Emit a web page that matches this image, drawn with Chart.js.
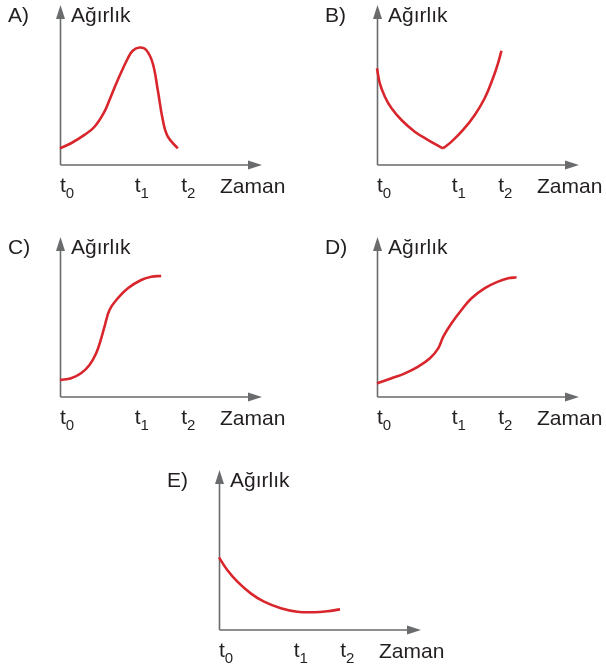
<!DOCTYPE html>
<html>
<head>
<meta charset="utf-8">
<script src="https://cdn.jsdelivr.net/npm/chart.js@4.4.1/dist/chart.umd.min.js"></script>
<style>
  html, body { margin: 0; padding: 0; background: #fff; overflow: hidden; }
  .panel { position: absolute; width: 290px; height: 205px; }
</style>
</head>
<body>
<div class="panel" style="left:0;top:0"><canvas id="chartA" width="290" height="205"></canvas></div>
<div class="panel" style="left:317px;top:0"><canvas id="chartB" width="290" height="205"></canvas></div>
<div class="panel" style="left:0;top:232px"><canvas id="chartC" width="290" height="205"></canvas></div>
<div class="panel" style="left:317px;top:232px"><canvas id="chartD" width="290" height="205"></canvas></div>
<div class="panel" style="left:159px;top:465px"><canvas id="chartE" width="290" height="205"></canvas></div>
<script>
// time axis marks t0, t1, t2 (same for every panel)
const tickValues = [0, 37, 60];
const tickSubs = ['0', '1', '2'];

// A) rises, peaks near t1, drops back by t2
const timeA = [0, 5.5, 12.1, 17.1, 22.0, 24.5, 28.6, 33.6, 36.0, 39.4, 42.7, 45.9, 48.4, 50.9, 53.4, 58.3];
const weightA = [10.4, 13.6, 18.8, 23.9, 33.3, 40.6, 53.1, 66.7, 71.4, 73.4, 71.9, 63.6, 46.9, 28.1, 17.7, 10.4];

// B) falls until just before t1, then climbs again
const timeB1 = [0, 1.4, 3.9, 7.2, 12.1, 18.7, 25.3, 32.7];
const weightB1 = [60.4, 51.0, 42.7, 35.4, 28.1, 20.8, 15.6, 10.4];
const timeB2 = [32.7, 36.9, 42.6, 48.4, 53.3, 57.4, 59.9, 61.6];
const weightB2 = [10.4, 14.6, 21.9, 31.3, 41.7, 54.2, 63.5, 71.4];

// C) s-curve levelling off at t1
const timeC = [0, 5.5, 10.4, 14.6, 17.9, 20.4, 22.0, 24.5, 28.6, 33.6, 40.2, 45.2, 50.1];
const weightC = [10.6, 11.7, 14.8, 20.0, 27.3, 36.7, 43.8, 54.4, 61.7, 68.0, 73.1, 75.2, 75.6];

// D) s-curve levelling off at t2
const timeD = [0, 7.2, 13.8, 20.4, 26.2, 30.3, 32.8, 36.9, 41.8, 46.8, 53.4, 59.9, 64.9, 69.1];
const weightD = [8.5, 11.7, 14.8, 19.0, 24.2, 30.4, 37.7, 46.1, 54.4, 61.7, 68.0, 72.1, 74.2, 74.8];

// E) steady decline, flat near the end
const timeE = [0, 4.1, 9.1, 15.7, 22.3, 30.6, 38.8, 47.0, 53.6, 59.9];
const weightE = [45.4, 37.5, 30.2, 22.9, 17.7, 13.6, 11.4, 11.1, 11.7, 12.9];

const RED = '#d9252c';
const AXIS = '#6a6b6d';
const TEXT = '#231f20';
const FONT = '"Liberation Sans", Arial, sans-serif';

function toPoints(xs, ys) {
    return xs.map((x, i) => ({ x: x, y: ys[i] }));
}

function curve(xs, ys) {
    return {
        data: toPoints(xs, ys),
        borderColor: RED,
        borderWidth: 2.6,
        pointRadius: 0,
        fill: false,
        tension: 0.4,
        clip: false,
    };
}

// axes with arrow heads plus the panel texts
const axesPlugin = {
    id: 'panelAxes',
    beforeDatasetsDraw(chart) {
        const { ctx, chartArea: a } = chart;
        const x0 = a.left + 0.5, y0 = a.bottom;
        ctx.save();
        ctx.strokeStyle = AXIS;
        ctx.fillStyle = AXIS;
        ctx.lineWidth = 1.6;
        ctx.beginPath();
        ctx.moveTo(x0, y0);
        ctx.lineTo(x0, a.top + 10);
        ctx.moveTo(x0, y0);
        ctx.lineTo(a.right - 10, y0);
        ctx.stroke();
        // arrow up
        ctx.beginPath();
        ctx.moveTo(x0, a.top);
        ctx.lineTo(x0 + 4.5, a.top + 14);
        ctx.lineTo(x0 - 4.5, a.top + 14);
        ctx.closePath();
        ctx.fill();
        // arrow right
        ctx.beginPath();
        ctx.moveTo(a.right, y0);
        ctx.lineTo(a.right - 14, y0 - 4.5);
        ctx.lineTo(a.right - 14, y0 + 4.5);
        ctx.closePath();
        ctx.fill();
        ctx.restore();
    },
    afterDraw(chart, args, opts) {
        const { ctx, chartArea: a } = chart;
        const xs = chart.scales.x;
        ctx.save();
        ctx.fillStyle = TEXT;
        ctx.textBaseline = 'alphabetic';
        ctx.textAlign = 'left';
        ctx.font = '21px ' + FONT;
        ctx.fillText(opts.letter, a.left - 52, 22);
        ctx.fillText('Ağırlık', a.left + 11, 22);
        ctx.fillText('Zaman', a.left + 160, a.bottom + 28);
        tickValues.forEach((v, i) => {
            const px = xs.getPixelForValue(v);
            ctx.font = '21px ' + FONT;
            ctx.fillText('t', px, a.bottom + 27);
            const w = ctx.measureText('t').width;
            ctx.font = '15px ' + FONT;
            ctx.fillText(tickSubs[i], px + w, a.bottom + 33);
        });
        ctx.restore();
    }
};

function makePanel(id, letter, datasets) {
    return new Chart(document.getElementById(id), {
        type: 'line',
        data: { datasets: datasets },
        options: {
            responsive: false,
            animation: false,
            events: [],
            layout: { padding: { left: 60, top: 5, right: 28, bottom: 40 } },
            scales: {
                x: { type: 'linear', min: 0, max: 100, display: false },
                y: { type: 'linear', min: 0, max: 100, display: false },
            },
            plugins: {
                legend: { display: false },
                tooltip: { enabled: false },
                panelAxes: { letter: letter },
            },
        },
        plugins: [axesPlugin],
    });
}

makePanel('chartA', 'A)', [curve(timeA, weightA)]);
makePanel('chartB', 'B)', [curve(timeB1, weightB1), curve(timeB2, weightB2)]);
makePanel('chartC', 'C)', [curve(timeC, weightC)]);
makePanel('chartD', 'D)', [curve(timeD, weightD)]);
makePanel('chartE', 'E)', [curve(timeE, weightE)]);
</script>
</body>
</html>
